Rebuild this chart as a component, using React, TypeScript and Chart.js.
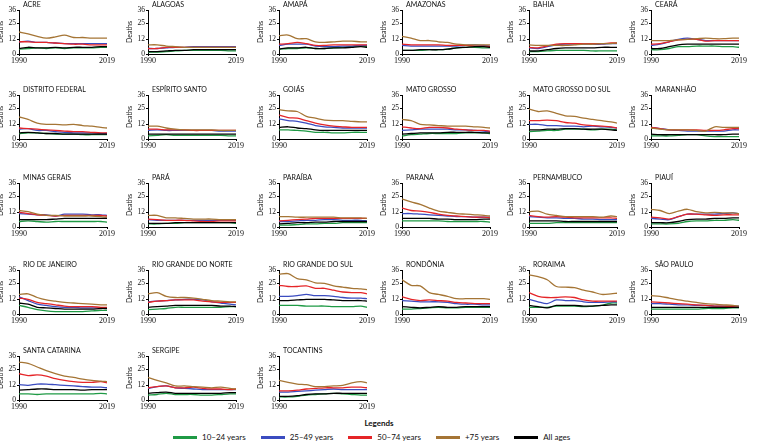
import React, { useEffect, useRef } from "react";
import { Chart, registerables } from "chart.js";
Chart.register(...registerables);

const years = [1990, 1993, 1996, 1999, 2002, 2005, 2008, 2011, 2014, 2017, 2019];
const seriesNames = ["10–24 years", "25–49 years", "50–74 years", "+75 years", "All ages"];
const seriesColors = ["#1f9a45", "#3b4cc0", "#e52528", "#a57535", "#000000"];
const yTicks = [0, 12, 25, 36];
const xTicks = [1990, 2019];

// each state: [10–24, 25–49, 50–74, +75, All ages]
const acre = [
  [4, 4.5, 5, 4.5, 5, 4.5, 5, 5, 5, 5.5, 5.5],
  [10, 10.5, 9.5, 9.5, 9, 8.5, 8.5, 8.5, 8.5, 8.5, 8.5],
  [10, 10, 9.5, 9.5, 9, 8.5, 8, 8, 7.5, 7.5, 7.5],
  [18, 16.5, 14.5, 13, 14, 15.5, 13.5, 13.5, 13, 13, 13],
  [4.5, 5.5, 5, 5, 5.5, 5, 5.5, 5.5, 5.5, 6, 6],
];
const alagoas = [
  [1.5, 1.5, 2, 2.5, 3, 3, 3, 3, 3, 2.5, 2.5],
  [4.5, 4.5, 5, 5.5, 5.5, 6, 6, 6, 6, 6, 6],
  [4.5, 4.5, 5.5, 5.5, 5.5, 5.5, 5.5, 5.5, 5.5, 5.5, 5.5],
  [7.5, 7.5, 6.5, 6, 5.5, 5.5, 5.5, 5.5, 5.5, 5.5, 5.5],
  [2, 2, 2.5, 3, 3, 3.5, 3.5, 3.5, 3.5, 3.5, 3.5],
];
const amapa = [
  [4, 4.5, 4.5, 5, 4.5, 4.5, 5, 5.5, 6, 6.5, 6],
  [7, 8, 8, 8, 6.5, 6, 6, 6.5, 6.5, 7, 7],
  [8, 8.5, 9.5, 8.5, 7, 7, 7.5, 7.5, 7.5, 7.5, 7.5],
  [15, 15.5, 12.5, 12.5, 10, 9.5, 10, 10.5, 10.5, 10, 10],
  [4, 5, 5, 5.5, 4.5, 4.5, 5, 5, 5.5, 6, 5.5],
];
const amazonas = [
  [3, 3, 3, 3.5, 3.5, 4, 5, 5.5, 5.5, 5, 5],
  [7, 6.5, 6.5, 6.5, 6.5, 6.5, 6.5, 7, 7.5, 7, 6.5],
  [8, 7.5, 7.5, 7.5, 7.5, 7, 7, 7, 6.5, 6.5, 6],
  [14.5, 13, 11, 11, 10, 9.5, 8, 7.5, 7.5, 7.5, 7.5],
  [3, 3, 3.5, 3.5, 3.5, 4, 5, 5.5, 6, 6, 5.5],
];
const bahia = [
  [2, 2, 2.5, 3, 3, 3, 3, 2.5, 2.5, 2.5, 2.5],
  [5, 4.5, 6, 7.5, 8, 8, 8, 8, 8, 8.5, 8.5],
  [5.5, 5, 6.5, 8, 8.5, 8.5, 8.5, 8.5, 8.5, 9, 9],
  [7.5, 7, 7, 7, 7, 7.5, 8, 8, 8.5, 8.5, 9],
  [2.5, 2.5, 3.5, 4.5, 5, 5, 5, 5, 5.5, 5.5, 5.5],
];
const ceara = [
  [3.5, 3.5, 4.5, 6, 6, 6.5, 6.5, 6.5, 6, 6, 5.5],
  [7, 8, 10, 12, 13, 12, 11, 11, 11, 11, 11],
  [8, 8.5, 10, 11.5, 12, 12, 10.5, 11, 11, 11, 11],
  [11, 11, 11, 11.5, 12, 12.5, 13, 12.5, 12.5, 13, 13],
  [4.5, 4.5, 6, 7.5, 8, 8, 8, 8, 8, 8, 8],
];
const distritoFederal = [
  [4.5, 5, 5, 4.5, 4, 4, 4, 3.5, 3.5, 3.5, 3.5],
  [8, 8.5, 7, 7, 6, 5.5, 5, 5, 5, 4.5, 4.5],
  [9, 8.5, 8, 7.5, 7, 6.5, 6, 6, 5.5, 5, 5],
  [18, 16, 13, 12, 12, 11.5, 12, 11, 10.5, 9.5, 9],
  [5, 5.5, 5, 4.5, 4.5, 4, 4, 4, 4, 4, 4],
];
const espiritoSanto = [
  [2.5, 3, 3.5, 3, 3, 3, 3, 3, 3, 2.5, 2.5],
  [7, 7.5, 7, 7, 7, 7, 7, 7, 6.5, 6.5, 6.5],
  [8, 8, 7.5, 7.5, 7.5, 7, 7, 7, 7, 7, 7],
  [10.5, 10.5, 9, 8, 7.5, 7.5, 7.5, 7.5, 7, 7, 7],
  [4, 4, 4, 4, 4, 4, 4, 4, 4, 4, 4],
];
const goias = [
  [7.5, 7.5, 7, 6.5, 5.5, 5.5, 5, 5, 5.5, 5.5, 5.5],
  [16.5, 15, 14.5, 13, 11, 10, 9.5, 9, 9, 9, 9],
  [19.5, 17.5, 17, 15, 13, 11.5, 10.5, 10, 9.5, 9.5, 9.5],
  [24, 23, 22.5, 18.5, 17, 15.5, 15, 15, 14.5, 14, 14],
  [9.5, 10, 9, 8.5, 7.5, 7, 7, 7, 7, 7, 7],
];
const matoGrosso = [
  [2.5, 3.5, 4, 4.5, 4.5, 4.5, 4.5, 5, 5, 5, 4.5],
  [7, 7.5, 8, 8, 8, 8, 7.5, 7.5, 7, 6.5, 6],
  [10, 9, 8.5, 9.5, 9.5, 9, 8, 7.5, 7, 7, 6.5],
  [16, 15, 12, 11.5, 11, 10.5, 10.5, 10.5, 10, 9.5, 9],
  [4, 4.5, 5, 5, 5, 5.5, 5.5, 5.5, 5.5, 5, 5],
];
const matoGrossoDoSul = [
  [6, 6.5, 7, 7, 8, 8, 8, 7.5, 8, 8, 7.5],
  [12, 12, 11, 11, 10.5, 10.5, 10, 10.5, 10, 9.5, 9],
  [15, 15, 15.5, 15, 13.5, 13, 11.5, 11, 10.5, 10, 9],
  [24.5, 22.5, 23, 21, 19, 18.5, 17, 16, 15, 14, 13],
  [7.5, 7.5, 8, 8, 8.5, 8.5, 8, 8, 8, 7.5, 7],
];
const maranhao = [
  [2.5, 2.5, 2.5, 3, 3.5, 3.5, 2.5, 2, 2, 2, 2],
  [9.5, 8.5, 7.5, 7, 6.5, 6.5, 6.5, 6.5, 6.5, 7.5, 7.5],
  [9.5, 8.5, 7.5, 7.5, 7.5, 7.5, 7, 7, 7.5, 8.5, 8.5],
  [9, 8, 7.5, 7.5, 7.5, 7, 6.5, 10, 9.5, 9.5, 9.5],
  [4, 3.5, 3.5, 3.5, 3.5, 3.5, 3.5, 3.5, 3.5, 4, 4],
];
const minasGerais = [
  [4.5, 5, 4.5, 4, 4.5, 4.5, 4.5, 4.5, 4.5, 4.5, 4],
  [11, 10.5, 10, 10, 9, 10.5, 10.5, 10.5, 10, 10, 9.5],
  [12, 11, 10, 9.5, 9, 9.5, 9.5, 9.5, 9.5, 9.5, 9],
  [13.5, 12.5, 10.5, 9.5, 9.5, 9, 9, 9, 9, 8.5, 8],
  [6, 6, 6, 6, 6.5, 7, 7, 7, 7, 7, 7],
];
const para = [
  [2.5, 2.5, 3, 3, 3.5, 3.5, 3.5, 3.5, 3.5, 3.5, 3],
  [6, 5.5, 5.5, 5.5, 5.5, 5.5, 5.5, 5.5, 5.5, 5.5, 5.5],
  [6.5, 6, 5.5, 5.5, 5.5, 5, 4.5, 4.5, 5, 5, 5],
  [9.5, 9.5, 7.5, 7.5, 7, 6.5, 6.5, 6.5, 6, 6, 6],
  [3, 3, 3, 3.5, 3.5, 3.5, 3.5, 3.5, 3.5, 3.5, 3.5],
];
const paraiba = [
  [1.5, 1.5, 2, 2.5, 2.5, 3, 3, 3.5, 3.5, 3.5, 3.5],
  [4.5, 4.5, 5, 5.5, 5.5, 6, 6, 5.5, 5.5, 5.5, 5],
  [5, 5.5, 6, 6.5, 7, 7, 7, 7, 7, 7, 7],
  [8.5, 8.5, 8, 8, 8, 8, 8, 7.5, 7.5, 7.5, 7],
  [2.5, 3, 3.5, 3.5, 4, 4, 4.5, 4.5, 4.5, 4.5, 4.5],
];
const parana = [
  [5, 5, 5, 5, 5, 4.5, 4.5, 4.5, 4.5, 4.5, 4],
  [11, 11, 10.5, 10, 9.5, 9, 8.5, 8.5, 8, 8, 8],
  [15.5, 13.5, 13, 12, 10.5, 9.5, 9, 8.5, 8, 8, 7.5],
  [23, 20.5, 18.5, 15.5, 13, 12, 11, 10.5, 10, 9.5, 9],
  [7, 7, 7, 7, 6.5, 6.5, 6, 6, 6, 6.5, 6.5],
];
const pernambuco = [
  [3, 3, 3, 3.5, 3.5, 3.5, 3.5, 3.5, 3.5, 3.5, 3.5],
  [8.5, 8, 7.5, 7.5, 7, 7, 6.5, 6.5, 6, 6, 6],
  [9.5, 8.5, 8, 8.5, 8, 7.5, 7.5, 7.5, 7.5, 7.5, 7],
  [12.5, 13, 10.5, 9.5, 8.5, 8.5, 8.5, 8.5, 8, 9, 8.5],
  [5, 5, 5, 5, 4.5, 4.5, 4.5, 4.5, 4.5, 4.5, 4.5],
];
const piaui = [
  [2.5, 2.5, 2.5, 3, 4.5, 5, 5, 5.5, 5.5, 6, 5.5],
  [7, 6.5, 6, 8.5, 10.5, 10.5, 10.5, 10.5, 11, 11.5, 11],
  [8, 7.5, 6.5, 8.5, 10.5, 10.5, 10, 9.5, 10, 10, 10],
  [14.5, 13.5, 11, 13, 14.5, 12.5, 11.5, 12, 11.5, 11.5, 11],
  [3.5, 3.5, 3.5, 4.5, 6, 6.5, 6.5, 7, 7, 7.5, 7.5],
];
const rioDeJaneiro = [
  [7, 5.5, 3.5, 2.5, 2, 2, 2, 2, 2.5, 3, 3],
  [14, 11, 8, 7, 6, 5.5, 5.5, 5, 5, 5, 5],
  [13, 12, 9.5, 8.5, 7.5, 6.5, 6, 6, 6, 5.5, 5.5],
  [16, 16.5, 13.5, 11.5, 10.5, 9.5, 9, 8.5, 8, 7.5, 7.5],
  [9, 8, 5.5, 5, 4.5, 4, 4, 4, 4, 4.5, 4.5],
];
const rioGrandeDoNorte = [
  [3.5, 4, 4.5, 5.5, 5.5, 5.5, 5.5, 5.5, 5.5, 6, 6],
  [10, 10.5, 11, 11.5, 12, 12, 11.5, 10, 9, 8, 7.5],
  [9.5, 10.5, 11, 11.5, 11.5, 11.5, 10.5, 10, 9.5, 9.5, 9.5],
  [16.5, 17.5, 14.5, 13.5, 13.5, 13, 12, 11, 10.5, 10, 10],
  [5.5, 6, 6.5, 7, 7, 7, 7, 7, 6.5, 6.5, 6],
];
const rioGrandeDoSul = [
  [7, 7, 7, 6.5, 6.5, 6.5, 6, 6, 6, 6.5, 5.5],
  [14.5, 14.5, 15, 16, 15, 15, 14.5, 13.5, 13, 13, 12.5],
  [23.5, 22.5, 22.5, 23, 21, 21, 19.5, 18, 17.5, 17.5, 16.5],
  [32.5, 33, 29, 28, 25.5, 25, 23, 22, 21, 20.5, 20],
  [11, 11, 11.5, 12, 12, 12, 11.5, 11, 11, 11, 10.5],
];
const rondonia = [
  [4, 4, 4.5, 5, 5.5, 5, 5, 5.5, 5.5, 5.5, 5.5],
  [11, 10.5, 10, 10, 10, 9.5, 8.5, 8, 8, 7.5, 7.5],
  [14, 12, 11, 11.5, 11, 10.5, 9.5, 9, 8.5, 8.5, 8.5],
  [28, 23.5, 23, 17.5, 16, 14.5, 12.5, 12.5, 12.5, 12.5, 12],
  [6, 5.5, 5, 5.5, 6, 5.5, 5.5, 6, 6, 6, 6],
];
const roraima = [
  [5.5, 5.5, 5.5, 6.5, 6.5, 6.5, 6, 6.5, 7, 9, 9],
  [12, 10, 8.5, 11.5, 11, 11, 10, 9.5, 9.5, 10, 10],
  [17.5, 14.5, 13.5, 13.5, 14, 13.5, 11.5, 10.5, 10.5, 10.5, 10.5],
  [32, 30.5, 28, 22.5, 22, 21.5, 19.5, 18, 16, 16.5, 17],
  [7, 6, 5, 7, 7, 7, 6.5, 6.5, 7, 7.5, 7.5],
];
const saoPaulo = [
  [4, 4, 4, 4, 4, 4, 4.5, 4.5, 4.5, 5, 5],
  [8.5, 8.5, 8, 7.5, 7.5, 7, 7, 6.5, 6.5, 6.5, 6.5],
  [10, 9.5, 9, 8.5, 8, 7.5, 7, 6.5, 6.5, 6, 5.5],
  [15, 14.5, 13, 11.5, 10.5, 9.5, 8.5, 8, 7.5, 7, 6.5],
  [5.5, 5.5, 5.5, 5.5, 5.5, 5.5, 5.5, 5.5, 5.5, 5.5, 5.5],
];
const santaCatarina = [
  [5, 5, 4.5, 5, 5, 5, 5, 5, 5, 5.5, 5],
  [12.5, 12, 13, 13, 12.5, 12, 11.5, 11, 10.5, 10.5, 10],
  [21.5, 20, 20.5, 19.5, 17.5, 16, 15, 14.5, 14.5, 15, 14],
  [31, 30, 27, 24, 21.5, 19.5, 18.5, 17, 16, 15.5, 15],
  [8, 8.5, 9, 9, 8.5, 8.5, 8.5, 8, 8.5, 8.5, 8.5],
];
const sergipe = [
  [4, 4.5, 5.5, 4.5, 4.5, 4.5, 4, 4, 4.5, 5, 5],
  [9.5, 11, 11.5, 10, 9.5, 9, 8.5, 8.5, 8.5, 8.5, 8.5],
  [10, 11, 11.5, 10, 10, 10.5, 9.5, 9, 9, 8.5, 9],
  [18.5, 16, 14, 11.5, 11.5, 11, 10.5, 10, 10.5, 9.5, 9],
  [5.5, 6, 6.5, 5.5, 5.5, 5.5, 5.5, 5.5, 5.5, 6, 6],
];
const tocantins = [
  [2.5, 2.5, 3, 4, 4.5, 5, 5.5, 5, 4.5, 4, 4],
  [6.5, 6.5, 7, 7.5, 8, 8.5, 9, 8.5, 8.5, 8.5, 8.5],
  [7.5, 7.5, 8, 9, 9.5, 10, 10, 10, 10.5, 10.5, 10],
  [16, 14.5, 13, 12.5, 11, 11, 11.5, 12, 14, 15, 14],
  [3, 3, 3.5, 4.5, 5, 5, 5.5, 5.5, 5.5, 5.5, 5.5],
];

const stateNames = [
  "ACRE", "ALAGOAS", "AMAPÁ", "AMAZONAS", "BAHIA", "CEARÁ",
  "DISTRITO FEDERAL", "ESPÍRITO SANTO", "GOIÁS", "MATO GROSSO", "MATO GROSSO DO SUL", "MARANHÃO",
  "MINAS GERAIS", "PARÁ", "PARAÍBA", "PARANÁ", "PERNAMBUCO", "PIAUÍ",
  "RIO DE JANEIRO", "RIO GRANDE DO NORTE", "RIO GRANDE DO SUL", "RONDÔNIA", "RORAIMA", "SÃO PAULO",
  "SANTA CATARINA", "SERGIPE", "TOCANTINS",
];
const stateData = [
  acre, alagoas, amapa, amazonas, bahia, ceara,
  distritoFederal, espiritoSanto, goias, matoGrosso, matoGrossoDoSul, maranhao,
  minasGerais, para, paraiba, parana, pernambuco, piaui,
  rioDeJaneiro, rioGrandeDoNorte, rioGrandeDoSul, rondonia, roraima, saoPaulo,
  santaCatarina, sergipe, tocantins,
];

// layout (pixels)
const colX = [19, 148, 279, 402, 529, 651];
const rowTop = [10, 95, 183, 270, 356];
const PLOT_W = 88;
const PLOT_H = 44;
const AXIS_W = 22;
const TOP_PAD = 11;
const X_AXIS_H = 14;
const RIGHT_PAD = 12;

const sansFont = "Lato, 'Open Sans', sans-serif";
const serifFont = "'Liberation Serif', 'DejaVu Serif', serif";

const titlePlugin = {
  id: "panelTitle",
  afterDraw(chart: any, _args: any, opts: any) {
    const { ctx, chartArea } = chart;
    ctx.save();
    ctx.fillStyle = "#111";
    ctx.font = `7px ${sansFont}`;
    ctx.textAlign = "left";
    ctx.textBaseline = "alphabetic";
    ctx.fillText(opts.text, chartArea.left + 4, chartArea.top - 3);
    ctx.restore();
  },
};

function Panel({ name, data, left, top }: { name: string; data: number[][]; left: number; top: number }) {
  const ref = useRef<HTMLCanvasElement>(null);
  useEffect(() => {
    const canvas = ref.current!;
    const order = [4, 3, 2, 1, 0];
    const chart = new Chart(canvas, {
      type: "line",
      data: {
        datasets: order.map((k) => ({
          label: seriesNames[k],
          data: years.map((yr, j) => ({ x: yr, y: data[k][j] })),
          borderColor: seriesColors[k],
          backgroundColor: seriesColors[k],
          borderWidth: 1.3,
          pointRadius: 0,
          tension: 0.3,
          fill: false,
        })),
      },
      options: {
        animation: false,
        responsive: false,
        maintainAspectRatio: false,
        layout: { padding: { top: TOP_PAD, right: RIGHT_PAD, left: 0, bottom: 0 } },
        plugins: {
          legend: { display: false },
          tooltip: { enabled: false },
          title: { display: false },
          panelTitle: { text: name },
        } as any,
        scales: {
          x: {
            type: "linear",
            min: 1990,
            max: 2019,
            afterBuildTicks: (s: any) => {
              s.ticks = xTicks.map((v) => ({ value: v }));
            },
            afterFit: (s: any) => {
              s.height = X_AXIS_H;
            },
            ticks: {
              autoSkip: false,
              maxRotation: 0,
              padding: 0,
              color: "#111",
              font: { family: serifFont, size: 8 },
              callback: (v: any) => String(v),
            },
            grid: { drawOnChartArea: false, drawTicks: true, tickLength: 2, color: "#000" },
            border: { display: true, color: "#000", width: 1 },
          },
          y: {
            min: 0,
            max: 36,
            afterBuildTicks: (s: any) => {
              s.ticks = yTicks.map((v) => ({ value: v }));
            },
            afterFit: (s: any) => {
              s.width = AXIS_W;
            },
            ticks: {
              padding: 1,
              color: "#111",
              font: { family: serifFont, size: 7.5 },
              callback: (v: any) => String(v),
            },
            title: {
              display: true,
              text: "Deaths",
              color: "#111",
              font: { family: sansFont, size: 7 },
              padding: 0,
            },
            grid: { drawOnChartArea: false, drawTicks: true, tickLength: 2, color: "#000" },
            border: { display: true, color: "#000", width: 1 },
          },
        },
      } as any,
      plugins: [titlePlugin],
    });
    return () => chart.destroy();
  }, [name, data]);
  const w = AXIS_W + PLOT_W + RIGHT_PAD;
  const h = TOP_PAD + PLOT_H + X_AXIS_H;
  return (
    <canvas
      ref={ref}
      width={w}
      height={h}
      style={{ position: "absolute", left: left - AXIS_W, top: top - TOP_PAD, width: w, height: h }}
    />
  );
}

export default function App() {
  return (
    <div style={{ position: "absolute", left: 0, top: 0, width: 758, height: 448, background: "#fff", overflow: "hidden" }}>
      {stateNames.map((name, i) => (
        <Panel key={name} name={name} data={stateData[i]} left={colX[i % 6]} top={rowTop[Math.floor(i / 6)]} />
      ))}
      <div
        style={{
          position: "absolute",
          left: 0,
          width: 758,
          top: 418,
          textAlign: "center",
          fontFamily: sansFont,
          fontWeight: "bold",
          fontSize: 8,
          color: "#111",
        }}
      >
        Legends
      </div>
      <div style={{ position: "absolute", left: 173, top: 431, height: 12, display: "flex", alignItems: "center", gap: 15, fontFamily: sansFont, fontSize: 8, color: "#111", whiteSpace: "nowrap" }}>
        {seriesNames.map((s, k) => (
          <div key={s} style={{ display: "flex", alignItems: "center" }}>
            <span style={{ display: "inline-block", width: 24, height: 3, background: seriesColors[k], marginRight: 5 }} />
            {s}
          </div>
        ))}
      </div>
    </div>
  );
}
